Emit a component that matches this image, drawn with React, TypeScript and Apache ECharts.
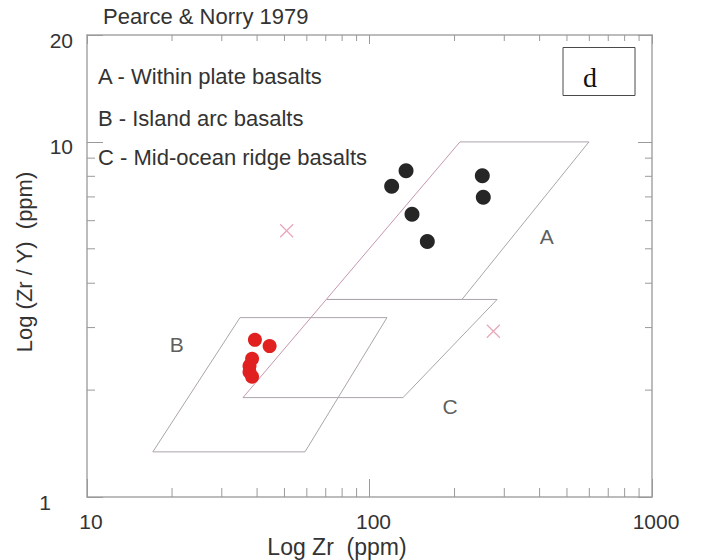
import React, { useEffect, useRef } from "react";
import * as echarts from "echarts";

// ---- data ----
const titleText = "Pearce & Norry 1979";
const legendLines = ["A - Within plate basalts", "B - Island arc basalts", "C - Mid-ocean ridge basalts"];
const panelLetter = "d";

const xTickLabels = [10, 100, 1000];
const yTickLabels = [1, 10, 20];
const xMinorTicks = [20, 30, 40, 50, 60, 70, 80, 90, 200, 300, 400, 500, 600, 700, 800, 900];
const yMinorTicks = [2, 3, 4, 5, 6, 7, 8, 9];

// field boundaries [Zr, Zr/Y]
const fieldAOutline = [[70.7, 3.6], [212.5, 3.6], [598, 10], [209, 10]];
const fieldALeftEdge = [[209, 10], [35.66, 1.905]];
const fieldCOutline = [[70.7, 3.6], [283, 3.6], [131.4, 1.905], [35.66, 1.905]];
const fieldBOutline = [[34.8, 3.2], [115.3, 3.2], [59.1, 1.34], [17.1, 1.34], [34.8, 3.2]];

const fieldLabels = [
  { name: "A", value: [424, 5.42] },
  { name: "B", value: [20.8, 2.69] },
  { name: "C", value: [192.8, 1.8] },
];

const blackSamples = [
  [134.7, 8.29],
  [119.8, 7.5],
  [141.4, 6.26],
  [160.2, 5.24],
  [250.8, 8.03],
  [252.8, 6.98],
];
const redSamples = [
  [39.3, 2.77],
  [44.3, 2.66],
  [38.4, 2.45],
  [37.6, 2.34],
  [37.6, 2.25],
  [38.4, 2.18],
];
const pinkCrosses = [
  [50.9, 5.62],
  [274.4, 2.93],
];

const FONT = '"Liberation Sans", Arial, sans-serif';
const TEXT = "#333333";
const AXIS = "#a6a6a6";
const TICK = "#9a9a9a";
const FIELD = "#aca4ac";
const FIELD_PINK = "#c596b0";

export default function App() {
  const ref = useRef<HTMLDivElement>(null);

  useEffect(() => {
    if (!ref.current) return;
    const chart = echarts.init(ref.current, undefined, { renderer: "svg" });

    const tickSeries = (data: number[][], size: number[], offset: number[]) => ({
      type: "scatter",
      data,
      symbol: "rect",
      symbolSize: size,
      symbolOffset: offset,
      itemStyle: { color: TICK, opacity: 1 },
      silent: true,
      clip: false,
      z: 1,
    });

    const lineSeries = (data: number[][], color: string) => ({
      type: "line",
      data,
      symbol: "none",
      lineStyle: { color, width: 1 },
      silent: true,
      z: 2,
    });

    const option: any = {
      animation: false,
      backgroundColor: "#ffffff",
      grid: { left: 87, right: 55, top: 35, bottom: 63, outerBoundsMode: "none" },
      xAxis: [
        {
          type: "log",
          logBase: 10,
          min: 10,
          max: 1000,
          position: "bottom",
          axisLine: { show: true, lineStyle: { color: AXIS, width: 1.5 } },
          axisTick: { show: true, inside: true, length: 18, lineStyle: { color: TICK } },
          splitLine: { show: false },
          axisLabel: {
            show: true,
            margin: 14,
            fontSize: 21,
            fontFamily: FONT,
            color: TEXT,
            formatter: (v: number) => {
              const r = Math.round(v);
              return xTickLabels.includes(r) ? "{p|" + r + "}" : "";
            },
            rich: { p: { fontSize: 21, fontFamily: FONT, color: TEXT, padding: [0, 0, 0, 8] } },
          },
        },
        {
          type: "log",
          logBase: 10,
          min: 10,
          max: 1000,
          position: "top",
          axisLine: { show: true, lineStyle: { color: AXIS, width: 1.5 } },
          axisTick: { show: true, inside: true, length: 9, lineStyle: { color: TICK } },
          axisLabel: { show: false },
          splitLine: { show: false },
        },
      ],
      yAxis: [
        {
          type: "log",
          logBase: 10,
          min: 1,
          max: 20,
          position: "left",
          axisLine: { show: true, lineStyle: { color: AXIS, width: 1.5 } },
          axisTick: { show: true, inside: true, length: 16, lineStyle: { color: TICK } },
          splitLine: { show: false },
          axisLabel: {
            show: true,
            margin: 14,
            fontSize: 21,
            fontFamily: FONT,
            color: TEXT,
            formatter: (v: number) => {
              const r = Math.round(v);
              if (!yTickLabels.includes(r)) return "";
              return r === 1 ? "{one|" + r + "}" : "{n|" + r + "}";
            },
            rich: {
              n: { fontSize: 21, fontFamily: FONT, color: TEXT, padding: [10, 0, 0, 0] },
              one: { fontSize: 21, fontFamily: FONT, color: TEXT, padding: [10, 22, 0, 0] },
            },
          },
        },
        {
          type: "log",
          logBase: 10,
          min: 1,
          max: 20,
          position: "right",
          axisLine: { show: true, lineStyle: { color: AXIS, width: 1.5 } },
          axisTick: { show: true, inside: true, length: 14, lineStyle: { color: TICK } },
          axisLabel: { show: false },
          splitLine: { show: false },
        },
      ],
      series: [
        tickSeries(xMinorTicks.map((v) => [v, 1]), [1, 9], [0, -4.5]),
        tickSeries(xMinorTicks.map((v) => [v, 20]), [1, 6], [0, 3]),
        tickSeries(yMinorTicks.map((v) => [10, v]), [8, 1], [4, 0]),
        tickSeries(yMinorTicks.map((v) => [1000, v]), [7, 1], [-3.5, 0]),
        lineSeries(fieldAOutline, FIELD),
        lineSeries(fieldCOutline, FIELD),
        lineSeries(fieldBOutline, FIELD),
        lineSeries(fieldALeftEdge, FIELD_PINK),
        {
          type: "scatter",
          data: fieldLabels,
          symbolSize: 1,
          itemStyle: { color: "rgba(0,0,0,0)" },
          label: {
            show: true,
            position: "inside",
            formatter: (p: any) => p.name,
            fontSize: 21,
            fontFamily: FONT,
            color: TEXT,
          },
          silent: true,
          z: 3,
        },
        {
          type: "scatter",
          data: pinkCrosses,
          symbol: "path://M0 0L10 10M10 0L0 10",
          symbolSize: 13,
          itemStyle: { color: "none", borderColor: "#e8a6b8", borderWidth: 1.2, opacity: 1 },
          silent: true,
          z: 3,
        },
        {
          type: "scatter",
          data: blackSamples,
          symbol: "circle",
          symbolSize: 15,
          itemStyle: { color: "#262626", opacity: 1 },
          silent: true,
          z: 4,
        },
        {
          type: "scatter",
          data: redSamples,
          symbol: "circle",
          symbolSize: 14,
          itemStyle: { color: "#e0211f", opacity: 1 },
          silent: true,
          z: 4,
        },
      ],
      graphic: [
        {
          type: "text",
          x: 103,
          y: 16,
          style: { text: titleText, fontSize: 22, fontFamily: FONT, fill: TEXT, align: "left", verticalAlign: "middle" },
        },
        ...legendLines.map((t, i) => ({
          type: "text",
          x: 98,
          y: [76.5, 118, 157.5][i],
          style: { text: t, fontSize: 22, fontFamily: FONT, fill: TEXT, align: "left", verticalAlign: "middle" },
        })),
        {
          type: "rect",
          shape: { x: 563, y: 47.5, width: 72, height: 48 },
          style: { fill: "#ffffff", stroke: "#4a4a4a", lineWidth: 1 },
        },
        {
          type: "text",
          x: 590,
          y: 77,
          style: {
            text: panelLetter,
            fontSize: 28,
            fontFamily: '"Liberation Serif", "Times New Roman", serif',
            fill: "#111111",
            align: "center",
            verticalAlign: "middle",
          },
        },
        {
          type: "text",
          x: 337,
          y: 547,
          style: { text: "Log Zr  (ppm)", fontSize: 23, fontFamily: FONT, fill: TEXT, align: "center", verticalAlign: "middle" },
        },
        {
          type: "text",
          x: 24,
          y: 262,
          rotation: Math.PI / 2,
          style: { text: "Log (Zr / Y)  (ppm)", fontSize: 22, fontFamily: FONT, fill: TEXT, align: "center", verticalAlign: "middle" },
        },
      ],
    };

    chart.setOption(option);
    return () => chart.dispose();
  }, []);

  return (
    <div
      ref={ref}
      style={{ position: "fixed", left: 0, top: 0, width: 707, height: 560, background: "#fff" }}
    />
  );
}
